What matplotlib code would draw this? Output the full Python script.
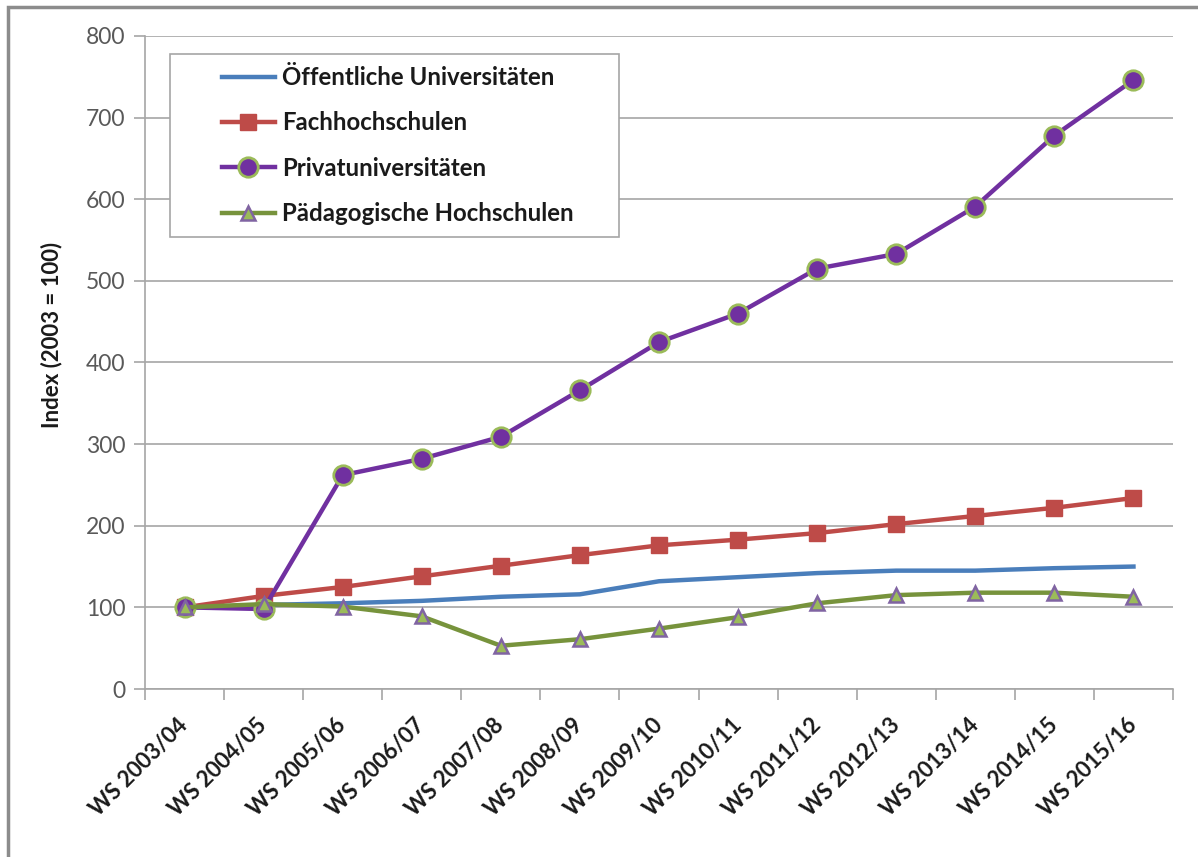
import matplotlib
matplotlib.use("Agg")
import matplotlib.pyplot as plt
from matplotlib.patches import Rectangle

plt.rcParams['font.family'] = ['Lato', 'DejaVu Sans']

categories = ["WS 2003/04", "WS 2004/05", "WS 2005/06", "WS 2006/07", "WS 2007/08",
              "WS 2008/09", "WS 2009/10", "WS 2010/11", "WS 2011/12", "WS 2012/13",
              "WS 2013/14", "WS 2014/15", "WS 2015/16"]
oeffentliche = [100, 103, 105, 108, 113, 116, 132, 137, 142, 145, 145, 148, 150]
fachhochschulen = [100, 114, 125, 138, 151, 164, 176, 183, 191, 202, 212, 222, 234]
privat = [100, 98, 262, 282, 309, 366, 425, 460, 515, 533, 591, 678, 746]
paedagogische = [100, 104, 101, 89, 53, 61, 74, 88, 105, 115, 118, 118, 113]
yticks = [0, 100, 200, 300, 400, 500, 600, 700, 800]

W, H = 1198, 857
fig = plt.figure(figsize=(W / 100, H / 100), dpi=100)
ax = fig.add_axes([145 / W, 1 - 689 / H, (1173 - 145) / W, (689 - 36) / H])

x = list(range(len(categories)))
lw = 3.2
ax.plot(x, oeffentliche, color='#4a7ebb', lw=lw, label='Öffentliche Universitäten', zorder=3)
ax.plot(x, fachhochschulen, color='#be4b48', lw=lw, marker='s', ms=11,
        mfc='#be4b48', mec='#be4b48', label='Fachhochschulen', zorder=4)
ax.plot(x, privat, color='#7030a0', lw=lw, marker='o', ms=14,
        mfc='#7030a0', mec='#9bbb59', mew=2, label='Privatuniversitäten', zorder=5)
ax.plot(x, paedagogische, color='#77933c', lw=lw, marker='^', ms=10.5,
        mfc='#9bbb59', mec='#8064a2', mew=1.8, label='Pädagogische Hochschulen', zorder=6)

ax.set_xlim(-0.5, len(categories) - 0.5)
ax.set_ylim(0, 800)
ax.set_yticks(yticks)
ax.set_yticklabels([str(v) for v in yticks], fontsize=16.5, color='#595959')
ax.yaxis.grid(True, color='#a6a6a6', lw=1.2)
ax.set_axisbelow(True)

ax.set_xticks(x)
ax.set_xticklabels(categories, rotation=45, ha='right', va='center', rotation_mode='anchor',
                   fontsize=16, fontweight='bold', color='#1a1a1a')
ax.set_xticks([i - 0.5 for i in range(len(categories) + 1)], minor=True)
ax.tick_params(axis='x', which='major', length=0, pad=24)
ax.tick_params(axis='x', which='minor', length=8, color='#a6a6a6', width=1.2)
ax.tick_params(axis='y', length=8, color='#a6a6a6', width=1.2, pad=6)

for s in ['top', 'right']:
    ax.spines[s].set_visible(False)
for s in ['left', 'bottom']:
    ax.spines[s].set_color('#a6a6a6')
    ax.spines[s].set_linewidth(1.2)

ax.set_ylabel('Index (2003 = 100)', fontsize=16, fontweight='bold', color='#1a1a1a')
ax.yaxis.set_label_coords((62 - 145) / (1173 - 145), (689 - 335) / (689 - 36))

# legend (frame drawn separately to match the wide left padding)
leg = ax.legend(loc='upper left', bbox_to_anchor=(222 / W, 1 - 66 / H),
                bbox_transform=fig.transFigure,
                frameon=False, prop={'size': 17.3, 'weight': 'bold'}, handlelength=2.2,
                labelspacing=0.93, borderpad=0, handletextpad=0.3, borderaxespad=0)
for lh in leg.get_lines():
    lh.set_linewidth(lw)
for t in leg.get_texts():
    t.set_color('#1a1a1a')
leg.set_zorder(10)
ax.add_patch(Rectangle((170 / W, 1 - 237 / H), (619 - 170) / W, (237 - 54) / H,
                       transform=fig.transFigure, facecolor='white', edgecolor='#a6a6a6',
                       lw=1.2, zorder=9))

fig.patches.append(Rectangle((8 / W, -0.1), 1.2, 1 - 7 / H + 0.1, transform=fig.transFigure,
                             fill=False, edgecolor='#8c8c8c', lw=2.5))

fig.savefig('out.png', dpi=100)
